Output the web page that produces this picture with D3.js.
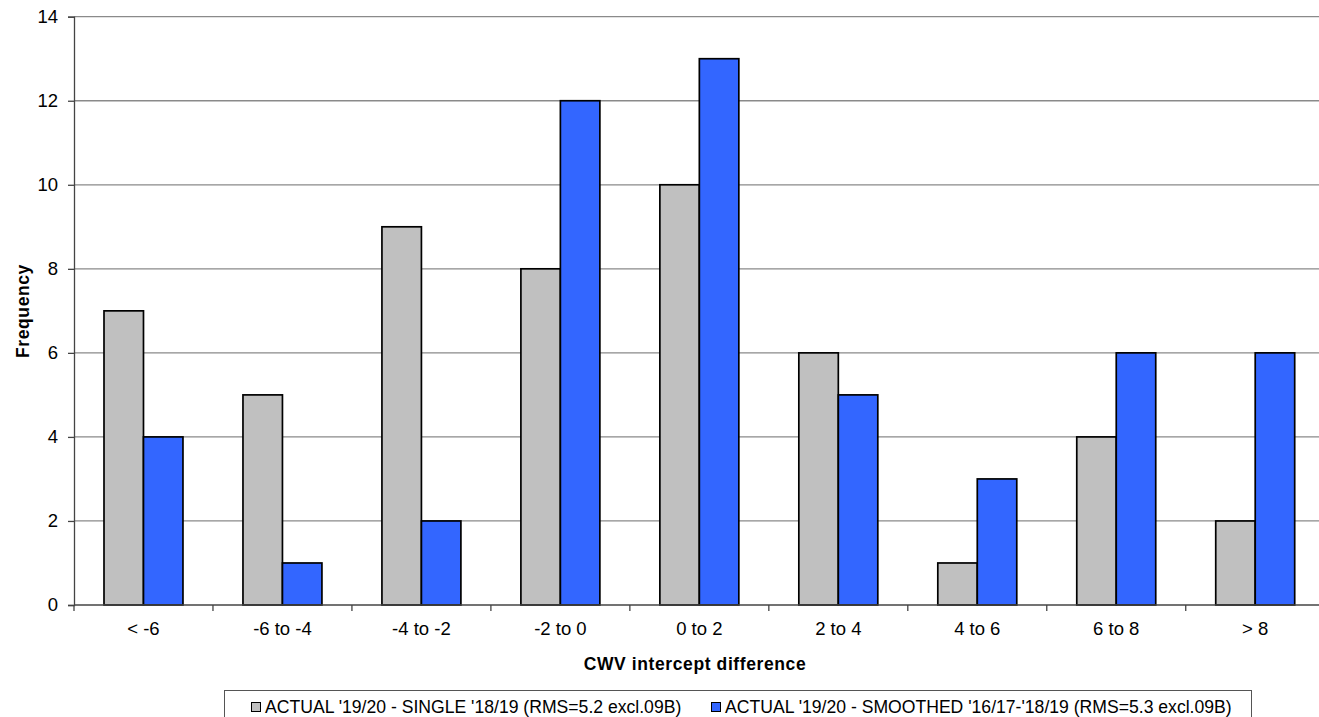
<!DOCTYPE html>
<html>
<head>
<meta charset="utf-8">
<script src="https://cdnjs.cloudflare.com/ajax/libs/d3/7.8.5/d3.min.js"></script>
<style>
  html, body { margin: 0; padding: 0; background: #fff; overflow: hidden; }
  text { font-family: "Liberation Sans", Arial, sans-serif; fill: #000; }
</style>
</head>
<body>
<svg id="chart" width="1319" height="717"></svg>
<script>
const categories = ["< -6", "-6 to -4", "-4 to -2", "-2 to 0", "0 to 2", "2 to 4", "4 to 6", "6 to 8", "> 8"];
const seriesNames = ["ACTUAL '19/20 - SINGLE '18/19 (RMS=5.2 excl.09B)", "ACTUAL '19/20 - SMOOTHED '16/17-'18/19 (RMS=5.3 excl.09B)"];
const singleValues = [7, 5, 9, 8, 10, 6, 1, 4, 2];
const smoothedValues = [4, 1, 2, 12, 13, 5, 3, 6, 6];
const yTicks = [0, 2, 4, 6, 8, 10, 12, 14];
const seriesColors = ["#C0C0C0", "#3366FF"];

(function () {
const svg = d3.select("#chart");
const pLeft = 74, pRight = 1324.7, pTop = 16.7, pBottom = 605;

const y = d3.scaleLinear().domain([0, 14]).range([pBottom, pTop]);
const x = d3.scaleBand().domain(categories).range([pLeft, pRight]).paddingInner(0).paddingOuter(0);
const bw = x.bandwidth();
const x1 = d3.scaleBand().domain([0, 1]).range([30, bw - 30]).padding(0);

// gridlines
svg.append("g").selectAll("line").data(yTicks.filter(d => d > 0)).join("line")
  .attr("x1", pLeft).attr("x2", pRight)
  .attr("y1", d => y(d)).attr("y2", d => y(d))
  .attr("stroke", "#8a8a8a").attr("stroke-width", 1.3);

// bars
const rows = categories.map((c, i) => ({ c, vals: [singleValues[i], smoothedValues[i]] }));
const g = svg.append("g");
rows.forEach(r => {
  r.vals.forEach((v, s) => {
    g.append("rect")
      .attr("x", x(r.c) + x1(s))
      .attr("y", y(v))
      .attr("width", x1.bandwidth())
      .attr("height", y(0) - y(v))
      .attr("fill", seriesColors[s])
      .attr("stroke", "#000")
      .attr("stroke-width", 1.7);
  });
});

// y axis
const yAxis = d3.axisLeft(y).tickValues(yTicks).tickSize(6).tickPadding(10).tickFormat(d3.format("d"));
const ya = svg.append("g").attr("transform", `translate(${pLeft},0)`).call(yAxis);
ya.select(".domain").attr("stroke", "#444").attr("stroke-width", 1.3);
ya.selectAll(".tick line").attr("stroke", "#444").attr("stroke-width", 1.3);
ya.selectAll(".tick text").style("font-size", "18.5px").style("font-family", "'Liberation Sans', Arial, sans-serif").attr("fill", "#000");

// x axis with ticks at band boundaries
const xa = svg.append("g").attr("transform", `translate(0,${pBottom})`);
xa.append("line").attr("x1", pLeft).attr("x2", pRight).attr("y1", 0).attr("y2", 0)
  .attr("stroke", "#444").attr("stroke-width", 1.3);
const boundaries = categories.map(c => x(c));
xa.selectAll("line.tk").data(boundaries).join("line").attr("class", "tk")
  .attr("x1", d => d).attr("x2", d => d).attr("y1", 0).attr("y2", 6)
  .attr("stroke", "#444").attr("stroke-width", 1.3);
xa.selectAll("text").data(categories).join("text")
  .attr("x", d => x(d) + bw / 2).attr("y", 30)
  .attr("text-anchor", "middle").style("font-size", "18.5px").text(d => d);

// axis titles
svg.append("text").attr("transform", "translate(28.5,311) rotate(-90)")
  .attr("text-anchor", "middle").style("font-size", "17.5px").style("font-weight", "bold")
  .style("letter-spacing", "0.6px").text("Frequency");
svg.append("text").attr("x", 695).attr("y", 670)
  .attr("text-anchor", "middle").style("font-size", "17.5px").style("font-weight", "bold")
  .style("letter-spacing", "0.6px").text("CWV intercept difference");

// legend
const lg = svg.append("g");
lg.append("rect").attr("x", 224.5).attr("y", 690.5).attr("width", 1027).attr("height", 40)
  .attr("fill", "#fff").attr("stroke", "#555").attr("stroke-width", 1);
const legendX = [251, 711];
seriesNames.forEach((n, i) => {
  lg.append("rect").attr("x", legendX[i] + 0.5).attr("y", 702.5).attr("width", 9).attr("height", 9)
    .attr("fill", seriesColors[i]).attr("stroke", "#000").attr("stroke-width", 1);
  lg.append("text").attr("x", legendX[i] + 14).attr("y", 713).style("font-size", "17.6px").text(n);
});
})();
</script>
</body>
</html>
